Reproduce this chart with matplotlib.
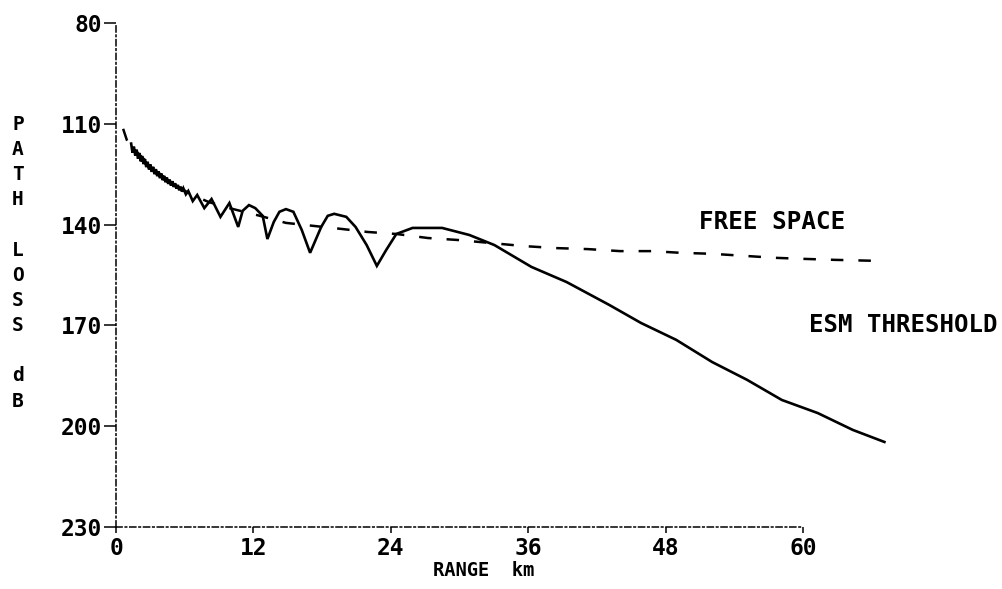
import matplotlib.pyplot as plt

# free-space path loss (dashed reference)
fs_range = [0.62, 0.94, 1.25, 1.87, 3.43, 4.99, 6.55, 8.10, 9.90, 12.57, 14.84,
            17.27, 19.70, 21.97, 24.48, 27.24, 29.90, 35.62, 38.42, 41.21, 44.02,
            46.79, 49.29, 52.06, 54.83, 57.60, 60.0, 62.77, 66.46]
fs_loss = [111.5, 114.8, 116.6, 118.6, 123.9, 127.9, 131.0, 133.3, 135.1, 137.4,
           139.5, 140.4, 141.3, 142.2, 142.8, 144.0, 144.6, 146.4, 147.0, 147.3,
           147.9, 147.9, 148.4, 148.7, 149.3, 149.9, 150.2, 150.5, 150.8]

# computed path loss: fast interference close in, then wide lobes and nulls
pl_range = [1.32, 1.44, 1.56, 1.68, 1.80, 1.92, 2.04, 2.16, 2.28, 2.40, 2.52,
            2.64, 2.76, 2.88, 3.00, 3.12, 3.24, 3.36, 3.48, 3.60, 3.72, 3.84,
            3.96, 4.08, 4.20, 4.32, 4.44, 4.56, 4.68, 4.80, 4.92, 5.04, 5.16,
            5.28, 5.40, 5.52, 5.64, 5.76, 5.88, 6.10,
            6.31, 6.70, 7.09, 7.71, 8.34, 9.12, 9.90, 10.67, 11.06, 11.61,
            12.16, 12.81, 13.22, 13.78, 14.27, 14.84, 15.49, 16.22, 16.95,
            17.92, 18.49, 19.05, 20.11, 20.92, 21.89, 22.78, 23.59, 24.48,
            25.90, 28.48, 30.86, 33.05, 36.28, 39.35, 43.07, 45.86, 48.92,
            52.06, 55.11, 58.15, 61.29, 64.34, 67.11]
pl_loss = [115.9, 118.6, 116.8, 119.5, 117.7, 120.4, 118.7, 121.2, 119.6, 122.0,
           120.5, 122.9, 121.3, 123.6, 122.1, 124.3, 122.8, 125.0, 123.5, 125.6,
           124.2, 126.2, 124.8, 126.8, 125.5, 127.4, 126.0, 127.9, 126.6, 128.4,
           127.1, 128.8, 127.7, 129.3, 128.2, 129.8, 128.7, 130.2, 129.2, 131.0,
           130.0, 133.0, 131.2, 135.1, 132.4, 137.7, 133.6, 140.7, 135.9, 134.2,
           135.1, 137.4, 144.3, 139.2, 136.2, 135.4, 136.2, 141.6, 148.4,
           140.7, 137.4, 136.8, 137.7, 140.7, 146.1, 152.3, 147.6, 142.8,
           141.0, 141.0, 143.1, 146.1, 152.6, 157.1, 163.9, 169.3, 174.3,
           180.9, 186.2, 192.2, 196.1, 201.1, 204.7]

x_ticks = [0, 12, 24, 36, 48, 60]
y_ticks = [80, 110, 140, 170, 200, 230]

font = dict(family='DejaVu Sans Mono', weight='bold')

fig = plt.figure(figsize=(10.02, 5.89), dpi=100)
ax = fig.add_axes([0.1158, 0.1053, 0.6856, 0.8557])

ax.plot(pl_range, pl_loss, color='black', lw=1.9, clip_on=False,
        solid_joinstyle='miter')
ax.plot(fs_range, fs_loss, color='black', lw=1.8, linestyle=(0, (5, 6)),
        clip_on=False)

ax.set_xlim(0, 60)
ax.set_ylim(230, 80)
ax.set_xticks(x_ticks)
ax.set_yticks(y_ticks)
ax.set_xticklabels([str(t) for t in x_ticks], fontsize=16.5, **font)
ax.set_yticklabels([str(t) for t in y_ticks], fontsize=16.5, **font)
ax.tick_params(axis='y', direction='out', length=9, width=1.1, pad=1)
ax.tick_params(axis='x', direction='out', length=4, width=1.1, pad=3)

for side in ['top', 'right']:
    ax.spines[side].set_visible(False)
for side in ['left', 'bottom']:
    ax.spines[side].set_linestyle((0, (4, 2, 1, 2)))
    ax.spines[side].set_linewidth(1.1)

ax.text(50.95, 139.2, 'FREE SPACE', fontsize=17.5, va='center', ha='left',
        clip_on=False, **font)
ax.text(60.5, 169.9, 'ESM THRESHOLD', fontsize=17.3, va='center', ha='left',
        clip_on=False, **font)

fig.text(0.432, 0.032, 'RANGE  km', fontsize=13.5, ha='left', va='center', **font)
fig.text(0.018, 0.805, 'P\nA\nT\nH\n\nL\nO\nS\nS\n\nd\nB', fontsize=14,
         ha='center', va='top', linespacing=1.41, **font)

plt.savefig('out.png', dpi=100)
